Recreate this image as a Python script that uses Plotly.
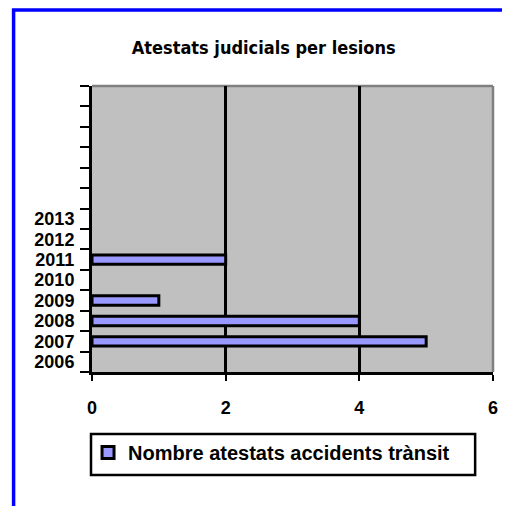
import plotly.graph_objects as go

title = "Atestats judicials per lesions"
series_name = "Nombre atestats accidents trànsit"
years = ["2006", "2007", "2008", "2009", "2010", "2011", "2012", "2013"]
values = [None, 5, 4, 1, None, 2, None, None]
blank_slots = [" " * (i + 1) for i in range(6)]
x_ticks = [0, 2, 4, 6]

OFF = 8  # page body margin offset
W, H = 510 - OFF, 506 - OFF
L, R, T, B = 92 - OFF, 14, 86 - OFF, 134
pw, ph = W - L - R, H - T - B

def px_x(x):
    return (x - OFF - L) / pw

def px_y(y):
    return 1 - (y - OFF - T) / ph

fig = go.Figure()
fig.add_trace(go.Bar(
    y=years, x=values, orientation="h", name=series_name,
    width=0.46,
    marker=dict(color="#9999FF", line=dict(color="black", width=3)),
    showlegend=True,
))

font_main = "Liberation Sans, Arial, sans-serif"

fig.update_layout(
    width=W, height=H,
    margin=dict(l=L, r=R, t=T, b=B),
    paper_bgcolor="white",
    plot_bgcolor="#C0C0C0",
    showlegend=True,
    title=dict(
        text=title, x=px_x(265), xref="paper", xanchor="center",
        y=1 - (48 - OFF) / H, yanchor="middle", yref="container",
        font=dict(family="Liberation Sans Narrow, DejaVu Sans Condensed, Liberation Sans, sans-serif",
                  size=18, color="black", weight="bold"),
    ),
    xaxis=dict(
        range=[0, 6], tickvals=x_ticks, ticks="outside", ticklen=6, tickwidth=2,
        tickcolor="black", showline=True, linecolor="black", linewidth=3,
        showgrid=True, gridcolor="black", gridwidth=2.5, zeroline=False,
        tickfont=dict(family=font_main, size=18, color="black", weight="bold"),
        ticklabelstandoff=11, fixedrange=True,
    ),
    yaxis=dict(
        type="category", categoryorder="array", categoryarray=years + blank_slots,
        range=[-0.5, len(years) + len(blank_slots) - 0.5],
        tickmode="linear", tick0=0, dtick=1,
        tickson="boundaries", ticks="outside", ticklen=9, tickwidth=2,
        tickcolor="black", showline=True, linecolor="black", linewidth=3,
        showgrid=False, zeroline=False,
        tickfont=dict(family=font_main, size=18, color="black", weight="bold"),
        ticklabelstandoff=11, fixedrange=True,
    ),
    legend=dict(
        x=px_x(88), y=px_y(433), xanchor="left", yanchor="top",
        bgcolor="rgba(0,0,0,0)", borderwidth=0,
        font=dict(family=font_main, size=20, color="black", weight="bold"),
        itemwidth=30,
    ),
    shapes=[
        dict(type="rect", xref="paper", yref="paper", layer="below",
             x0=px_x(13), x1=px_x(530), y0=px_y(530), y1=px_y(10),
             line=dict(color="#0000FF", width=3.5)),
        dict(type="line", xref="paper", yref="paper", layer="below",
             x0=0, x1=1, y0=1, y1=1, line=dict(color="#808080", width=2.5)),
        dict(type="line", xref="paper", yref="paper", layer="below",
             x0=1, x1=1, y0=0, y1=1, line=dict(color="#808080", width=2.5)),
        dict(type="rect", xref="paper", yref="paper",
             x0=px_x(91), x1=px_x(478), y0=px_y(475), y1=px_y(434),
             line=dict(color="black", width=2.5), fillcolor="rgba(0,0,0,0)"),
    ],
)

fig.write_html("out.html")
